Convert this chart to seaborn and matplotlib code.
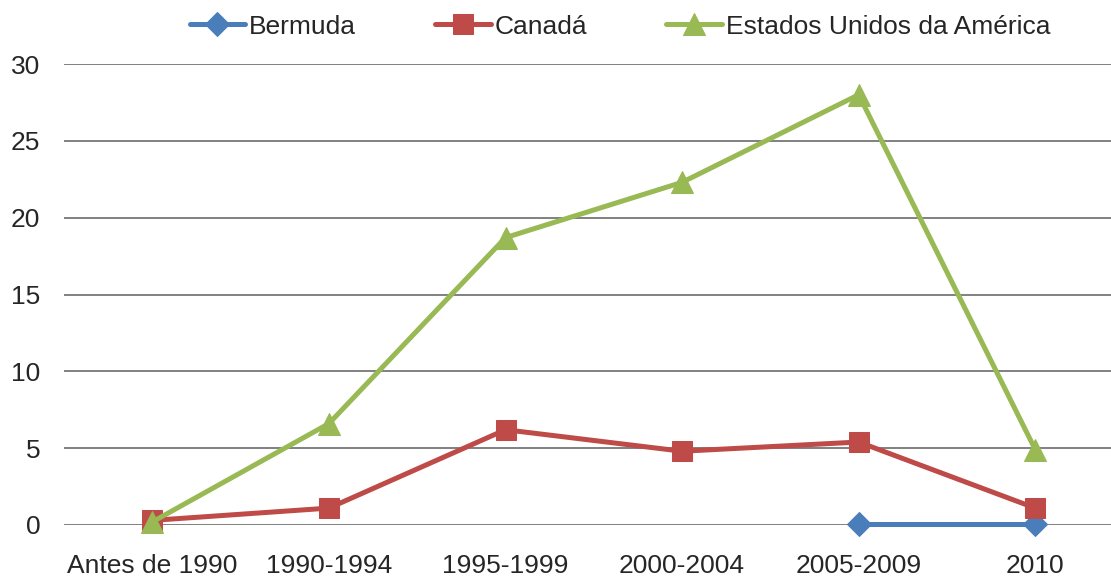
import numpy as np
import pandas as pd
import matplotlib
matplotlib.use("Agg")
import matplotlib.pyplot as plt
import seaborn as sns

periodos = ["Antes de 1990", "1990-1994", "1995-1999", "2000-2004", "2005-2009", "2010"]
bermuda = [np.nan, np.nan, np.nan, np.nan, 0.05, 0.05]
canada = [0.3, 1.1, 6.2, 4.8, 5.4, 1.1]
eua = [0.2, 6.6, 18.7, 22.3, 28.0, 4.9]

series = ["Bermuda", "Canadá", "Estados Unidos da América"]
cores = ["#4A7EBB", "#BE4B48", "#98B954"]
marcadores = ["D", "s", "^"]
tam_marc = [12, 14, 16]

sns.set_style("white")
plt.rcParams["font.family"] = ["Liberation Sans", "DejaVu Sans"]

fig = plt.figure(figsize=(11.11, 5.79), dpi=100)
ax = fig.add_axes([64 / 1111, 54 / 579, 1047 / 1111, 461 / 579])

pos = np.arange(len(periodos))
for nome, valores, cor, mk, ms in zip(series, [bermuda, canada, eua], cores, marcadores, tam_marc):
    df = pd.DataFrame({"x": pos, "y": valores}).dropna()
    sns.lineplot(data=df, x="x", y="y", ax=ax, color=cor, linewidth=3.6,
                 marker=mk, markersize=ms, markeredgecolor=cor, label=nome,
                 clip_on=False, zorder=3)

ax.set_xlim(-0.5, -0.5 + 1047 / 176.6)
ax.set_ylim(0, 30)
ax.set_yticks(range(0, 31, 5))
ax.set_xticks(pos)
ax.set_xticklabels(periodos)
ax.set_xlabel("")
ax.set_ylabel("")
ax.yaxis.grid(True, color="#808080", linewidth=1.4)
ax.xaxis.grid(False)
ax.set_axisbelow(True)
for s in ax.spines.values():
    s.set_visible(False)
ax.tick_params(axis="y", length=0, pad=17, labelsize=19)
ax.tick_params(axis="x", length=0, pad=21, labelsize=19)

ax.legend(loc="upper center", bbox_to_anchor=(556 / 1047, 1 + 60 / 461), ncol=3,
          frameon=False, fontsize=19, handlelength=2.1, handletextpad=0.15,
          columnspacing=3.0, borderaxespad=0)

fig.savefig("out.png", dpi=100)
